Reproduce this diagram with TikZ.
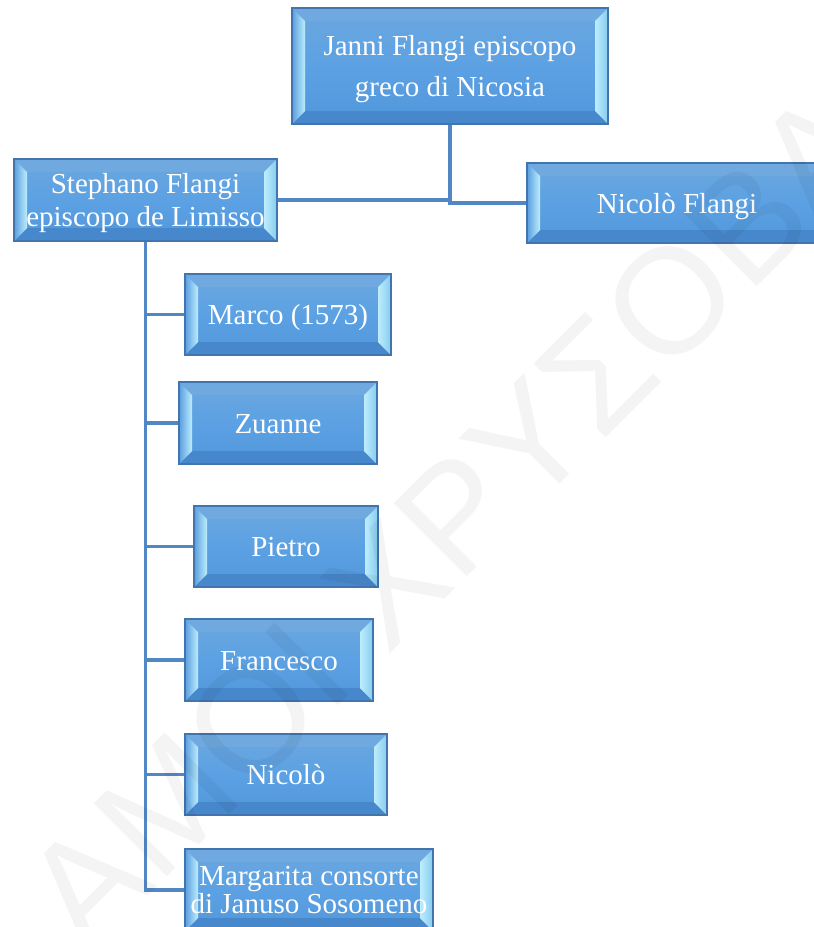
\documentclass[tikz,border=0pt]{standalone}
\usepackage{fontspec}
\setmainfont{Liberation Serif}
\newfontfamily\wmfont{Liberation Sans}
\usetikzlibrary{calc}

\definecolor{linkblue}{HTML}{5287C6}
\definecolor{boxedge}{HTML}{4274AE}
\definecolor{boxtop}{HTML}{6BA7DF}
\definecolor{boxmid}{HTML}{5CA1E3}
\definecolor{boxbot}{HTML}{5097DB}
\definecolor{bevtop}{HTML}{6FA9DF}
\definecolor{bevbot}{HTML}{4787CC}
\definecolor{bevglow}{HTML}{BDEDFD}
\definecolor{bevside}{HTML}{5A9EDF}
\definecolor{bevright}{HTML}{86CBEF}

\tikzset{
  bevelbox/.style={
    draw=boxedge, line width=1.1pt,
    top color=boxtop, bottom color=boxbot, middle color=boxmid,
    text=white, align=center, inner sep=0pt,
    font=\fontsize{29}{35}\selectfont,
    path picture={
      \coordinate (pnw) at (path picture bounding box.north west);
      \coordinate (pne) at (path picture bounding box.north east);
      \coordinate (psw) at (path picture bounding box.south west);
      \coordinate (pse) at (path picture bounding box.south east);
      % upper and lower facets of the bevel
      \fill[bevtop] (pnw) -- (pne) -- ($(pne)+(-13,13)$) -- ($(pnw)+(13,13)$) -- cycle;
      \fill[bevbot] (psw) -- (pse) -- ($(pse)+(-13,-13)$) -- ($(psw)+(13,-13)$) -- cycle;
      % side facets, bright along their inner edge
      \shade[left color=bevside, right color=bevglow]
        (pnw) -- ($(pnw)+(13,13)$) -- ($(psw)+(13,-13)$) -- (psw) -- cycle;
      \shade[left color=bevglow, right color=bevright]
        (pne) -- ($(pne)+(-13,13)$) -- ($(pse)+(-13,-13)$) -- (pse) -- cycle;
    }
  },
  oneline/.style={bevelbox, text height=20pt, text depth=0pt},
  twoline/.style={bevelbox, text depth=0pt},
  link/.style={draw=linkblue, line width=3.2pt},
  watermark/.style={font=\wmfont\fontsize{150}{150}\selectfont,
    text=black, text opacity=0.045, rotate=45, inner sep=0pt}
}

\begin{document}
\begin{tikzpicture}[x=1pt, y=-1pt]
\useasboundingbox (0,0) rectangle (814,927);
\fill[white] (0,0) rectangle (814,927);

% founder and his two sons
\node[twoline, minimum width=316pt, minimum height=116pt,
      font=\fontsize{29}{41}\selectfont] (janni) at (450,66)
      {Janni Flangi episcopo\\greco di Nicosia};
\node[twoline, minimum width=263pt, minimum height=82pt,
      font=\fontsize{29}{33}\selectfont] (stephano) at (145.5,200)
      {Stephano Flangi\\episcopo de Limisso};
\node[oneline, minimum width=300pt, minimum height=80pt] (nflangi) at (677,203)
      {Nicolò Flangi};

% children of Stephano
\node[oneline, minimum width=206pt, minimum height=81pt] (marco) at (288,314.5) {Marco (1573)};
\node[oneline, minimum width=198pt, minimum height=82pt] (zuanne) at (278,423) {Zuanne};
\node[oneline, minimum width=184pt, minimum height=81pt] (pietro) at (286,546.5) {Pietro};
\node[oneline, minimum width=188pt, minimum height=82pt] (francesco) at (279,660) {Francesco};
\node[oneline, minimum width=202pt, minimum height=81pt] (nicolo) at (286,774.5) {Nicolò};
\node[twoline, minimum width=248pt, minimum height=82pt,
      font=\fontsize{29}{28}\selectfont] (margarita) at (309,890)
      {Margarita consorte\\di Januso Sosomeno};

% connectors
\draw[link] (janni.south) |- (nflangi.west);
\draw[link] (janni.south) |- (stephano.east);
\foreach \child in {marco,zuanne,pietro,francesco,nicolo,margarita}
  \draw[link] (stephano.south) |- (\child.west);

% faint diagonal watermark over everything
\node[watermark] (wm) at (452,519) {ΑΜΟΙ ΧΡΥΣΟΒΑ};
\end{tikzpicture}
\end{document}
